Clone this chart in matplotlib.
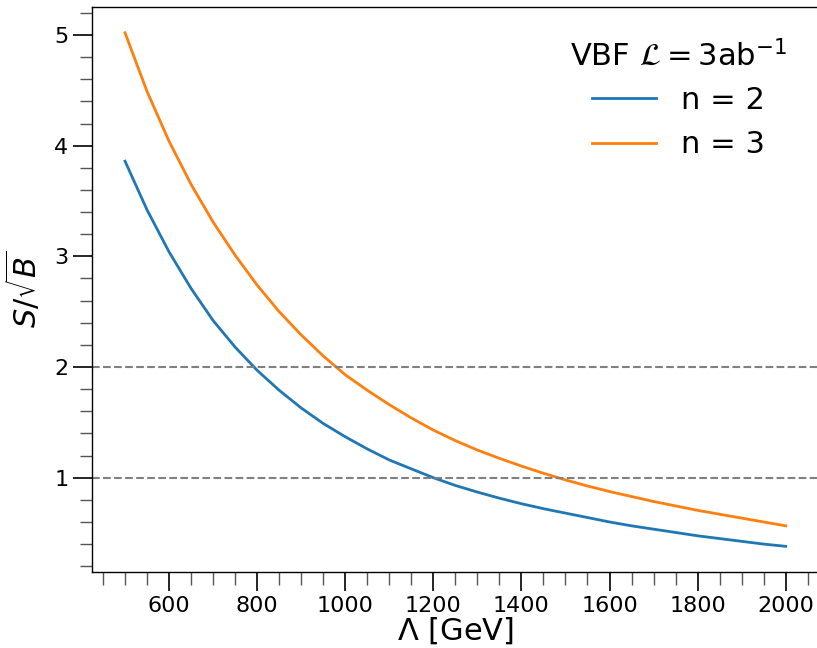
import matplotlib
matplotlib.use("Agg")
import matplotlib.pyplot as plt
import numpy as np
from matplotlib.ticker import MultipleLocator

# Lambda [GeV] and S/sqrt(B)
lam = [500, 550, 600, 650, 700, 750, 800, 850, 900, 950, 1000,
       1050, 1100, 1150, 1200, 1250, 1300, 1350, 1400, 1450, 1500,
       1550, 1600, 1650, 1700, 1750, 1800, 1850, 1900, 1950, 2000]
sig_n2 = [3.86, 3.42, 3.04, 2.71, 2.42, 2.18, 1.97, 1.79, 1.63, 1.49, 1.37,
          1.26, 1.16, 1.08, 1.00, 0.93, 0.87, 0.815, 0.765, 0.72, 0.68,
          0.64, 0.60, 0.565, 0.535, 0.505, 0.475, 0.45, 0.425, 0.40, 0.38]
sig_n3 = [5.02, 4.49, 4.04, 3.65, 3.31, 3.01, 2.74, 2.50, 2.29, 2.10, 1.93,
          1.79, 1.66, 1.54, 1.43, 1.335, 1.25, 1.175, 1.105, 1.04, 0.98,
          0.925, 0.875, 0.83, 0.785, 0.745, 0.705, 0.67, 0.635, 0.60, 0.565]
labels = ["n = 2", "n = 3"]
thresholds = [1, 2]

fig = plt.figure(figsize=(8.17, 6.48), dpi=100)
ax = fig.add_axes([0.1126, 0.1173, 0.8895, 0.8717])

ax.plot(lam, sig_n2, color="#1f77b4", lw=2, label=labels[0])
ax.plot(lam, sig_n3, color="#ff7f0e", lw=2, label=labels[1])
for t in thresholds:
    ax.axhline(t, color="gray", ls="--", lw=1.5)

ax.set_xlabel(r"$\Lambda$ [GeV]", fontsize=22, labelpad=0)
ax.set_ylabel(r"$S/\sqrt{B}$", fontsize=22, labelpad=8)

ax.xaxis.set_major_locator(MultipleLocator(200))
ax.xaxis.set_minor_locator(MultipleLocator(50))
ax.yaxis.set_major_locator(MultipleLocator(1))
ax.yaxis.set_minor_locator(MultipleLocator(0.2))
ax.tick_params(which="major", length=14, width=1.2, labelsize=16, pad=3)
ax.tick_params(which="minor", length=9, width=1.0, color="#555555")
for s in ax.spines.values():
    s.set_linewidth(1.0)

leg = ax.legend(loc="upper right", frameon=False, fontsize=22,
                title=r"VBF $\mathcal{L} = 3\mathrm{ab}^{-1}$",
                title_fontsize=22, handlelength=2.1, labelspacing=0.5,
                borderaxespad=0.65)

fig.savefig("out.png", dpi=100)
